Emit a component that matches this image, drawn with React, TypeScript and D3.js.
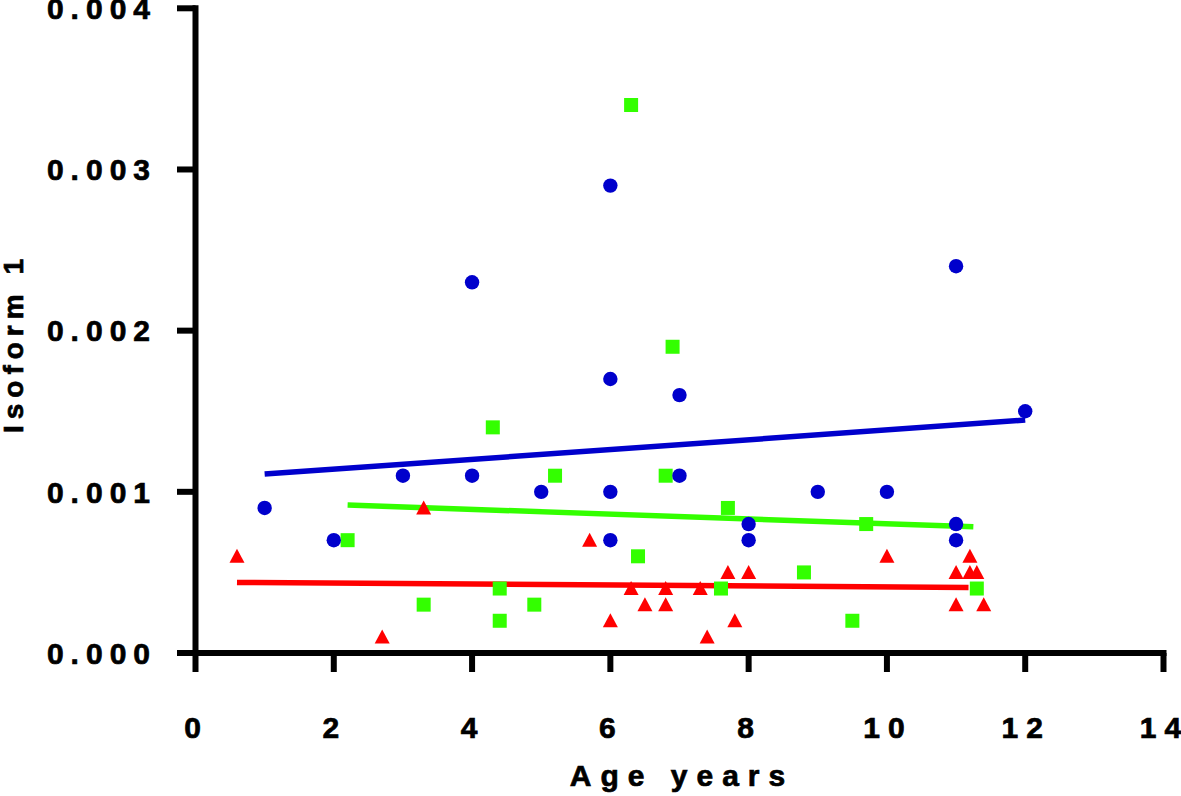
import React from "react";
import * as d3 from "d3";

// ---- Data ----
const blueAge = [1, 2, 3, 4, 4, 5, 6, 6, 6, 6, 7, 7, 8, 8, 9, 10, 11, 11, 11, 12];
const blueVal = [0.0009, 0.0007, 0.0011, 0.0011, 0.0023, 0.001, 0.0029, 0.0017, 0.001, 0.0007, 0.0016, 0.0011, 0.0008, 0.0007, 0.001, 0.001, 0.0024, 0.0008, 0.0007, 0.0015];

const greenAge = [2.2, 3.3, 4.3, 4.4, 4.4, 4.9, 5.2, 6.3, 6.4, 6.8, 6.9, 7.6, 7.7, 8.8, 9.5, 9.7, 11.3];
const greenVal = [0.0007, 0.0003, 0.0014, 0.0004, 0.0002, 0.0003, 0.0011, 0.0034, 0.0006, 0.0011, 0.0019, 0.0004, 0.0009, 0.0005, 0.0002, 0.0008, 0.0004];

const redAge = [0.6, 2.7, 3.3, 5.7, 6.0, 6.3, 6.5, 6.8, 6.8, 7.3, 7.4, 7.7, 7.8, 8.0, 10.0, 11.0, 11.0, 11.2, 11.2, 11.3, 11.4];
const redVal = [0.0006, 0.0001, 0.0009, 0.0007, 0.0002, 0.0004, 0.0003, 0.0004, 0.0003, 0.0004, 0.0001, 0.0005, 0.0002, 0.0005, 0.0006, 0.0005, 0.0003, 0.0006, 0.0005, 0.0005, 0.0003];

// fitted lines (end points)
const blueFitAge = [1.0, 12.0];
const blueFitVal = [0.00111, 0.001445];
const greenFitAge = [2.2, 11.25];
const greenFitVal = [0.000918, 0.000783];
const redFitAge = [0.6, 11.18];
const redFitVal = [0.000438, 0.000407];

const xTicks = [0, 2, 4, 6, 8, 10, 12, 14];
const yTicks = [0, 0.001, 0.002, 0.003, 0.004];
const xTitle = "Age years";
const yTitle = "Isoform 1";

const BLUE = "#0000CC";
const GREEN = "#33FF00";
const RED = "#FF0000";

const W = 1181;
const H = 796;
const FONT = "'Liberation Sans', Arial, Helvetica, sans-serif";

export default function App() {
  const x = d3.scaleLinear().domain([0, 14]).range([195.5, 1163.5]);
  const y = d3.scaleLinear().domain([0, 0.004]).range([653, 8.3]);

  const line = d3
    .line<[number, number]>()
    .x((d) => x(d[0]))
    .y((d) => y(d[1]));

  const fit = (a: number[], v: number[]) => line(a.map((ai, i) => [ai, v[i]] as [number, number])) || "";

  const sq = 14;
  const tri = (cx: number, cy: number) => {
    const p = d3.path();
    p.moveTo(cx, cy - 7.5);
    p.lineTo(cx + 7.5, cy + 6.5);
    p.lineTo(cx - 7.5, cy + 6.5);
    p.closePath();
    return p.toString();
  };

  const axisW = 6;
  const textStyle = {
    fontFamily: FONT,
    fontWeight: "bold" as const,
    fill: "#000",
    stroke: "#000",
    strokeWidth: 0.7,
  };

  return (
    <svg
      width={W}
      height={H}
      viewBox={`0 0 ${W} ${H}`}
      style={{ position: "absolute", left: 0, top: 0, background: "#fff" }}
    >
      <rect x={0} y={0} width={W} height={H} fill="#fff" />

      {/* fit lines */}
      <path d={fit(redFitAge, redFitVal)} stroke={RED} strokeWidth={5.5} fill="none" />
      <path d={fit(greenFitAge, greenFitVal)} stroke={GREEN} strokeWidth={5.5} fill="none" />
      <path d={fit(blueFitAge, blueFitVal)} stroke={BLUE} strokeWidth={5.5} fill="none" />

      {/* red triangles */}
      {redAge.map((a, i) => (
        <path key={"r" + i} d={tri(x(a), y(redVal[i]))} fill={RED} />
      ))}
      {/* green squares */}
      {greenAge.map((a, i) => (
        <rect
          key={"g" + i}
          x={x(a) - sq / 2}
          y={y(greenVal[i]) - sq / 2}
          width={sq}
          height={sq}
          fill={GREEN}
        />
      ))}
      {/* blue circles */}
      {blueAge.map((a, i) => (
        <circle key={"b" + i} cx={x(a)} cy={y(blueVal[i])} r={7.2} fill={BLUE} />
      ))}

      {/* axes */}
      <line x1={x(0)} x2={x(0)} y1={y(0.004) - 3} y2={y(0) + 3} stroke="#000" strokeWidth={axisW} />
      <line x1={177} x2={x(14) + 3} y1={y(0)} y2={y(0)} stroke="#000" strokeWidth={axisW} />
      {yTicks.map((t) => (
        <line key={"yt" + t} x1={177} x2={x(0)} y1={y(t)} y2={y(t)} stroke="#000" strokeWidth={axisW} />
      ))}
      {xTicks.map((t) => (
        <line key={"xt" + t} x1={x(t)} x2={x(t)} y1={y(0)} y2={672} stroke="#000" strokeWidth={axisW} />
      ))}

      {/* tick labels */}
      {yTicks.map((t) => (
        <text
          key={"yl" + t}
          x={157}
          y={y(t)}
          dy="0.36em"
          textAnchor="end"
          fontSize={30}
          letterSpacing={7}
          {...textStyle}
        >
          {d3.format(".3f")(t)}
        </text>
      ))}
      {xTicks.map((t) => (
        <text
          key={"xl" + t}
          x={x(t) + 1}
          y={738}
          textAnchor="middle"
          fontSize={30}
          letterSpacing={8}
          {...textStyle}
        >
          {String(t)}
        </text>
      ))}

      {/* titles */}
      <text x={682} y={786} textAnchor="middle" fontSize={30} letterSpacing={9} {...textStyle}>
        {xTitle}
      </text>
      <text
        transform={`translate(23, 343) rotate(-90)`}
        textAnchor="middle"
        fontSize={28}
        letterSpacing={6}
        {...textStyle}
      >
        {yTitle}
      </text>
    </svg>
  );
}
